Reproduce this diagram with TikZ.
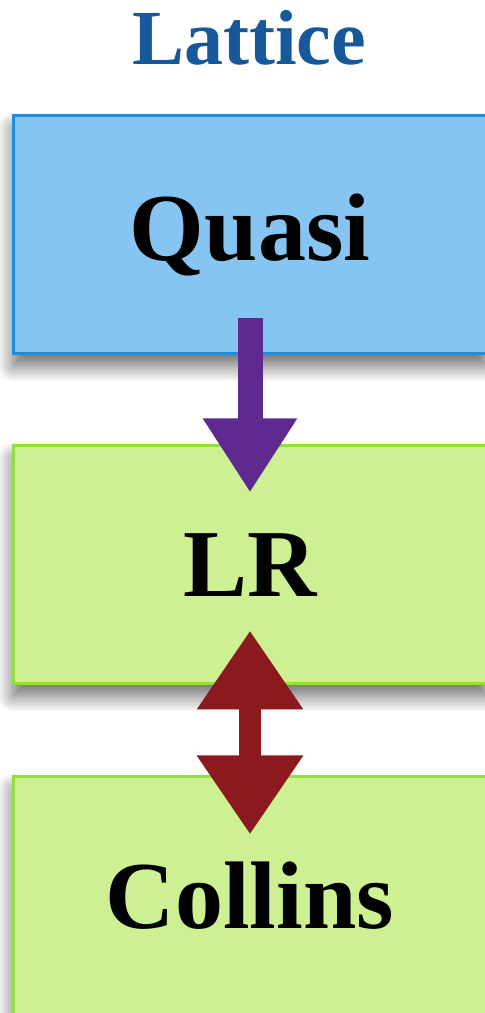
\documentclass[tikz,border=0pt]{standalone}
\usepackage{fontspec}
\setmainfont{Liberation Serif}
\usetikzlibrary{arrows.meta,shadows.blur}
\definecolor{titleblue}{HTML}{16589A}
\definecolor{qfill}{HTML}{86C4F1}
\definecolor{qdraw}{HTML}{1E8DE0}
\definecolor{gfill}{HTML}{CDF192}
\definecolor{gdraw}{HTML}{8FE03C}
\definecolor{purplearrow}{HTML}{5F2A90}
\definecolor{redarrow}{HTML}{8A1A1E}
\tikzset{
  box/.style={rectangle, minimum width=474pt, minimum height=238pt, line width=3pt,
    font=\fontsize{96}{100}\selectfont\bfseries, inner sep=0pt,
    blur shadow={shadow xshift=0pt, shadow yshift=-12pt, shadow blur radius=16pt, shadow blur steps=16, shadow opacity=60}},
  bluebox/.style={box, fill=qfill, draw=qdraw},
  greenbox/.style={box, fill=gfill, draw=gdraw},
  downarrow/.style={draw=purplearrow, line width=25pt, -{Triangle[width=89pt,length=74pt,fill=purplearrow]}},
  twoarrow/.style={draw=redarrow, line width=22pt, {Triangle[width=101pt,length=79pt,fill=redarrow]}-{Triangle[width=101pt,length=79pt,fill=redarrow]}},
}
\begin{document}
\begin{tikzpicture}[x=1pt,y=1pt]
\useasboundingbox (0,0) rectangle (485,1013);
\node[anchor=base, text=titleblue, font=\fontsize{78}{80}\selectfont\bfseries] (title) at (249,948) {Lattice};
\node[bluebox] (q) at (250,778) {Quasi};
\node[greenbox] (lr) at (250,448) {LR};
\node[greenbox] (c) at (250,117) {Collins};
\draw[downarrow] ([yshift=37pt]q.south) -- ([yshift=-48pt]lr.north);
\draw[twoarrow] ([yshift=55pt]lr.south) -- ([yshift=-59pt]c.north);
\end{tikzpicture}
\end{document}
